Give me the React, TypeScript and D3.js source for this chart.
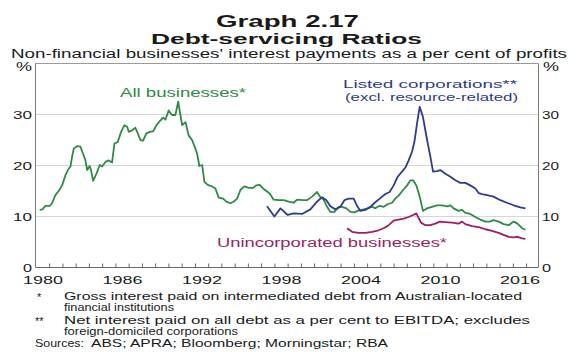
import React from "react";
import * as d3 from "d3";

// data: [year, per cent]
const allBusinesses: [number, number][] = [
  [1980.25, 11.3], [1980.45, 11.4], [1980.68, 12.1], [1981.0, 12.1], [1981.18, 12.6], [1981.43, 14.2],
  [1981.68, 15.0], [1981.94, 16.1], [1982.19, 18.1], [1982.44, 19.4], [1982.57, 19.8], [1982.69, 21.7],
  [1982.82, 23.3], [1983.07, 23.8], [1983.32, 23.7], [1983.52, 22.3], [1983.7, 21.0], [1983.83, 19.1],
  [1984.02, 19.9], [1984.13, 19.0], [1984.28, 17.0], [1984.53, 18.4], [1984.78, 20.1], [1984.96, 19.8],
  [1985.21, 20.7], [1985.46, 21.0], [1985.71, 20.6], [1985.89, 24.3], [1986.14, 24.6], [1986.39, 26.6],
  [1986.64, 27.9], [1986.85, 27.6], [1986.97, 26.6], [1987.22, 26.9], [1987.47, 27.4], [1987.65, 26.3],
  [1987.85, 25.0], [1988.05, 24.9], [1988.3, 26.3], [1988.55, 26.6], [1988.81, 26.7], [1989.06, 27.9],
  [1989.31, 28.7], [1989.56, 29.4], [1989.74, 29.0], [1989.98, 30.8], [1990.24, 29.9], [1990.49, 29.9],
  [1990.7, 32.5], [1991.0, 27.9], [1991.25, 28.5], [1991.49, 25.9], [1991.75, 25.0], [1992.0, 23.3],
  [1992.13, 22.3], [1992.3, 19.9], [1992.51, 20.1], [1992.68, 16.8], [1992.93, 16.2], [1993.26, 15.9],
  [1993.51, 15.5], [1993.76, 13.7], [1994.09, 13.5], [1994.34, 12.9], [1994.64, 12.6], [1994.89, 12.9],
  [1995.15, 13.5], [1995.4, 15.2], [1995.7, 15.9], [1996.02, 15.6], [1996.35, 15.6], [1996.6, 16.1],
  [1996.85, 16.2], [1997.11, 15.5], [1997.36, 15.0], [1997.61, 14.5], [1997.91, 13.3], [1998.29, 13.2],
  [1998.66, 13.2], [1999.04, 12.9], [1999.42, 12.7], [1999.68, 13.3], [2000.13, 13.2], [2000.43, 13.2],
  [2000.81, 13.9], [2001.18, 14.8], [2001.43, 13.8], [2001.68, 13.3], [2001.94, 11.9], [2002.19, 10.9],
  [2002.49, 10.9], [2002.82, 11.9], [2003.07, 11.9], [2003.4, 11.6], [2003.7, 10.9], [2004.0, 10.8],
  [2004.32, 11.2], [2004.7, 11.4], [2005.0, 11.6], [2005.34, 11.9], [2005.58, 11.6], [2005.91, 12.1],
  [2006.21, 11.9], [2006.51, 12.4], [2006.85, 12.7], [2007.09, 13.5], [2007.34, 14.1], [2007.68, 15.2],
  [2007.98, 16.1], [2008.23, 17.1], [2008.43, 17.1], [2008.68, 16.1], [2008.93, 13.9], [2009.18, 11.1],
  [2009.49, 11.6], [2009.86, 11.9], [2010.24, 12.2], [2010.62, 12.2], [2011.0, 12.0], [2011.25, 12.2],
  [2011.49, 11.6], [2011.87, 11.1], [2012.13, 11.3], [2012.38, 10.7], [2012.75, 10.5], [2013.13, 9.9],
  [2013.51, 9.4], [2013.89, 9.0], [2014.21, 9.0], [2014.51, 9.3], [2014.89, 9.0], [2015.27, 8.5],
  [2015.65, 8.3], [2016.02, 9.0], [2016.32, 8.6], [2016.66, 7.7], [2016.91, 7.4],
];

const listedCorporations: [number, number][] = [
  [1997.41, 12.0], [1997.96, 10.0], [1998.42, 11.6], [1998.97, 10.3], [1999.42, 10.6], [2000.05, 10.5],
  [2000.68, 11.4], [2001.18, 12.9], [2001.56, 13.8], [2001.89, 13.2], [2002.19, 12.0], [2002.57, 11.4],
  [2002.94, 11.9], [2003.25, 13.2], [2003.57, 13.5], [2003.95, 13.5], [2004.2, 12.1], [2004.45, 11.1],
  [2004.83, 11.3], [2005.21, 11.9], [2005.58, 12.8], [2005.96, 13.6], [2006.34, 14.4], [2006.66, 14.8],
  [2006.97, 16.1], [2007.27, 17.8], [2007.6, 18.8], [2007.85, 19.6], [2008.1, 21.0], [2008.35, 22.7],
  [2008.53, 24.6], [2008.73, 28.2], [2008.93, 31.5], [2009.18, 29.5], [2009.49, 25.0], [2009.74, 21.7],
  [2009.94, 18.8], [2010.24, 18.9], [2010.49, 19.1], [2010.87, 18.4], [2011.25, 17.8], [2011.62, 17.1],
  [2012.0, 16.6], [2012.38, 16.6], [2012.75, 16.1], [2013.13, 15.5], [2013.38, 14.6], [2013.64, 14.4],
  [2014.02, 14.2], [2014.51, 13.9], [2015.02, 13.2], [2015.52, 12.7], [2016.02, 12.2], [2016.53, 11.8],
  [2016.91, 11.6],
];

const unincorporated: [number, number][] = [
  [2003.45, 7.7], [2003.83, 7.0], [2004.32, 6.8], [2004.83, 6.8], [2005.34, 7.0], [2005.83, 7.3],
  [2006.21, 7.7], [2006.59, 8.3], [2006.97, 9.2], [2007.34, 9.4], [2007.72, 9.6], [2008.1, 9.9],
  [2008.43, 10.3], [2008.68, 10.6], [2008.85, 9.7], [2009.03, 8.8], [2009.36, 8.3], [2009.74, 8.3],
  [2010.11, 8.6], [2010.44, 9.0], [2010.87, 8.9], [2011.37, 8.8], [2011.87, 8.6], [2012.13, 9.0],
  [2012.38, 8.5], [2012.88, 8.1], [2013.38, 7.9], [2013.89, 7.5], [2014.39, 7.2], [2014.89, 6.8],
  [2015.27, 6.4], [2015.65, 6.0], [2016.02, 5.9], [2016.32, 6.0], [2016.66, 5.7], [2016.91, 5.6],
];

const yTicks = [0, 10, 20, 30];
const yearLabels = [1980, 1986, 1992, 1998, 2004, 2010, 2016];
const yearTicks = d3.range(1981, 2018);

const GREEN = "#2e8a45";
const BLUE = "#2e3b8e";
const PURPLE = "#9e1f5f";
const INK = "#1a1a1a";
const FONT = "'Liberation Sans', Arial, sans-serif";

// the source picture is stretched sideways, so text widths are fixed with textLength
function Txt(props: { x: number; y: number; w?: number; size: number; bold?: boolean; fill?: string; anchor?: string; children: React.ReactNode }) {
  const { x, y, w, size, bold, fill = INK, anchor = "start", children } = props;
  let left = x;
  if (w && anchor === "middle") left = x - w / 2;
  if (w && anchor === "end") left = x - w;
  return (
    <text
      x={w ? left : x}
      y={y}
      fontSize={size}
      fontWeight={bold ? "bold" : "normal"}
      fill={fill}
      textAnchor={w ? "start" : anchor}
      textLength={w}
      lengthAdjust={w ? "spacingAndGlyphs" : undefined}
    >
      {children}
    </text>
  );
}

export default function App() {
  const width = 580, height = 352;
  const left = 35.5, right = 538.5, top = 63.5, bottom = 267.5;

  const x = d3.scaleLinear().domain([1979.93, 2017.9]).range([left, right]);
  const y = d3.scaleLinear().domain([0, 40]).range([bottom, top]);

  const line = d3.line<[number, number]>()
    .x(d => x(d[0]))
    .y(d => y(d[1]));

  return (
    <svg width={width} height={height} style={{ position: "absolute", left: 0, top: 0, background: "#fff" }} fontFamily={FONT}>
      <rect width={width} height={height} fill="#fff" />

      {/* titles */}
      <Txt x={287.5} y={27} w={143} size={17} bold anchor="middle">Graph 2.17</Txt>
      <Txt x={286.5} y={44} w={271} size={15} bold anchor="middle">Debt-servicing Ratios</Txt>
      <Txt x={289} y={57.5} w={556} size={12.5} anchor="middle">Non-financial businesses' interest payments as a per cent of profits</Txt>

      {/* grid */}
      {yTicks.filter(t => t > 0).map(t => (
        <line key={t} x1={left} x2={right} y1={y(t)} y2={y(t)} stroke="#d6d6d6" strokeWidth={1} />
      ))}

      {/* frame */}
      <line x1={left} x2={right} y1={top} y2={top} stroke="#9a9a9a" />
      <line x1={left} x2={left} y1={top} y2={bottom} stroke="#7a7a7a" />
      <line x1={right} x2={right} y1={top} y2={bottom} stroke="#7a7a7a" />
      <line x1={left} x2={right} y1={bottom} y2={bottom} stroke="#6a6a6a" />
      {yearTicks.map(t => (
        <line key={t} x1={x(t)} x2={x(t)} y1={bottom} y2={bottom - 4} stroke="#6a6a6a" />
      ))}

      {/* axis labels */}
      <Txt x={32} y={71} w={16} size={12} anchor="end">%</Txt>
      <Txt x={543} y={71} w={16} size={12}>%</Txt>
      {yTicks.map(t => (
        <g key={t}>
          <Txt x={32} y={y(t) + 4} w={t === 0 ? 9 : 19} size={11.5} anchor="end">{t}</Txt>
          <Txt x={542} y={y(t) + 4} w={t === 0 ? 9 : 17} size={11.5}>{t}</Txt>
        </g>
      ))}
      {yearLabels.map(t => (
        <Txt key={t} x={x(t + 0.5)} y={284} w={40} size={11.5} anchor="middle">{t}</Txt>
      ))}

      {/* series */}
      <path d={line(allBusinesses) || ""} fill="none" stroke={GREEN} strokeWidth={1.8} strokeLinejoin="round" />
      <path d={line(listedCorporations) || ""} fill="none" stroke={BLUE} strokeWidth={1.8} strokeLinejoin="round" />
      <path d={line(unincorporated) || ""} fill="none" stroke={PURPLE} strokeWidth={1.8} strokeLinejoin="round" />

      <Txt x={120} y={97} w={126} size={12.5} fill={GREEN}>All businesses*</Txt>
      <Txt x={343} y={87.5} w={174} size={11.5} fill={BLUE}>Listed corporations**</Txt>
      <Txt x={345} y={100.5} w={173} size={11.5} fill={BLUE}>(excl. resource-related)</Txt>
      <Txt x={217} y={246.5} w={230} size={12.5} fill={PURPLE}>Unincorporated businesses*</Txt>

      {/* notes */}
      <Txt x={37} y={301} size={11}>*</Txt>
      <Txt x={64} y={300} w={458} size={11.5}>Gross interest paid on intermediated debt from Australian-located</Txt>
      <Txt x={64} y={311} w={110} size={11.5}>financial institutions</Txt>
      <Txt x={35} y={325} size={11}>**</Txt>
      <Txt x={64} y={324} w={466} size={11.5}>Net interest paid on all debt as a per cent to EBITDA; excludes</Txt>
      <Txt x={64} y={335} w={174} size={11.5}>foreign-domiciled corporations</Txt>
      <Txt x={35} y={347} w={49} size={11.5}>Sources:</Txt>
      <Txt x={91} y={347} w={297} size={11.5}>ABS; APRA; Bloomberg; Morningstar; RBA</Txt>
    </svg>
  );
}
